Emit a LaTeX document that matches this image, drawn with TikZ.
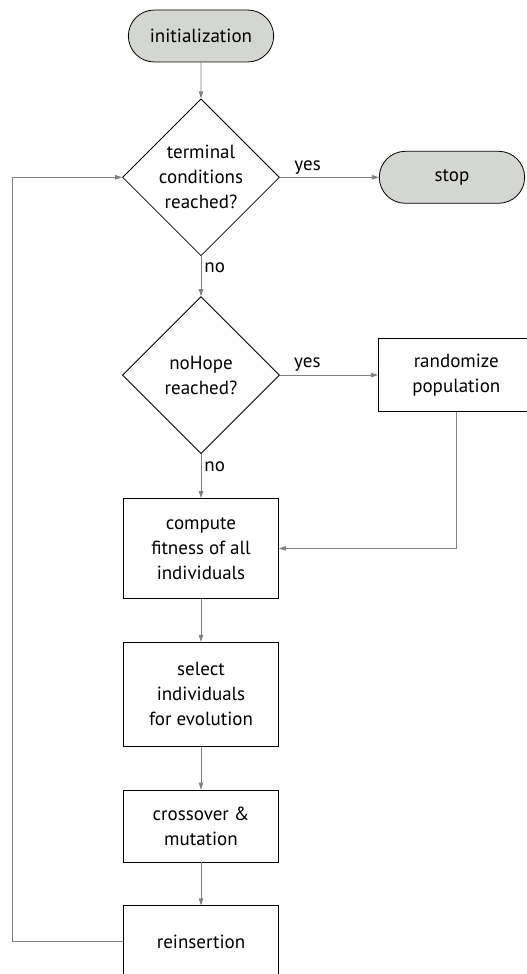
\documentclass[tikz,border=0pt]{standalone}
\definecolor{termcolor}{RGB}{212,214,209}
\definecolor{linecolor}{RGB}{128,128,128}
\usepackage{fontspec}
\setmainfont{PT Sans}
\usepackage{tikz}
\usetikzlibrary{arrows.meta, positioning, shapes.geometric, shapes.misc}

\begin{document}
\begin{tikzpicture}[
    font=\fontsize{19}{25}\selectfont,
    terminal/.style={rounded rectangle, draw, line width=0.8pt, fill=termcolor, minimum width=152pt, minimum height=52pt},
    decision/.style={diamond, draw, line width=0.8pt, align=center, inner sep=0pt, minimum width=157pt, minimum height=157pt},
    process/.style={rectangle, draw, line width=0.8pt, align=center, minimum width=155pt},
    flow/.style={draw=linecolor, line width=0.8pt, -{Triangle[length=7pt,width=4.5pt]}, color=linecolor},
    lbl/.style={text=black, inner sep=3pt}
  ]
    \useasboundingbox (0,0) rectangle (527pt,-974pt);
    \node[terminal] (init) at (201pt,-36pt) {initialization};
    \node[decision, below=36pt of init] (term) {terminal\\conditions\\reached?};
    \node[terminal, right=99pt of term] (stop) {stop};
    \node[decision, below=40pt of term] (hope) {noHope\\reached?};
    \node[process, minimum height=73pt, minimum width=156pt, right=98pt of hope] (rand) {randomize\\population};
    \node[process, minimum height=100pt, below=44pt of hope] (fit) {compute\\fitness of all\\individuals};
    \node[process, minimum height=104pt, below=43pt of fit] (sel) {select\\individuals\\for evolution};
    \node[process, minimum height=72pt, below=43pt of sel] (cross) {crossover \&\\mutation};
    \node[process, minimum height=72pt, below=43pt of cross] (reins) {reinsertion};
    \coordinate (back) at (12pt,0);

    % main flow
    \draw[flow] (init) -- (term);
    \draw[flow] (term) -- node[lbl, pos=0.28, above] {yes} (stop);
    \draw[flow] (term) -- node[lbl, pos=0.3, right] {no} (hope);
    \draw[flow] (hope) -- node[lbl, pos=0.28, above] {yes} (rand);
    \draw[flow] (hope) -- node[lbl, pos=0.3, right] {no} (fit);
    \draw[flow] (rand.south) |- (fit.east);
    \draw[flow] (fit) -- (sel);
    \draw[flow] (sel) -- (cross);
    \draw[flow] (cross) -- (reins);
    % loop back to the test
    \draw[flow] (reins.west) -- (reins.west -| back) -- (term.west -| back) -- (term.west);
\end{tikzpicture}
\end{document}
